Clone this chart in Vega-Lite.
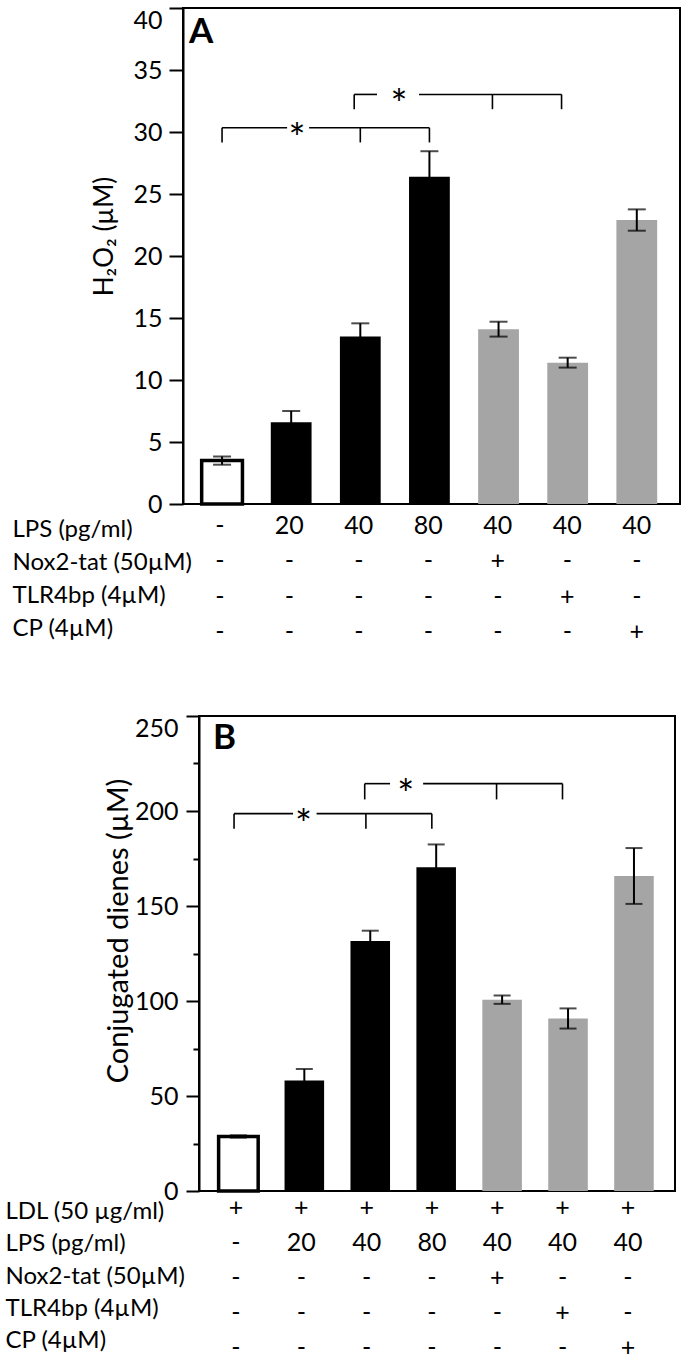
{
  "$schema": "https://vega.github.io/schema/vega-lite/v6.json",
  "padding": {"left": 5, "top": 6, "right": 4, "bottom": 0},
  "autosize": {"type": "pad"},
  "spacing": 67,
  "datasets": {
    "barsA": [
      {"col": "ctrl", "grp": "ctrl", "v": 3.5, "e": 0.33},
      {"col": "LPS20", "grp": "lps", "v": 6.6, "e": 0.9},
      {"col": "LPS40", "grp": "lps", "v": 13.5, "e": 1.07},
      {"col": "LPS80", "grp": "lps", "v": 26.4, "e": 2.05},
      {"col": "Nox2", "grp": "inh", "v": 14.1, "e": 0.6},
      {"col": "TLR4bp", "grp": "inh", "v": 11.4, "e": 0.4},
      {"col": "CP", "grp": "inh", "v": 22.9, "e": 0.86}
    ],
    "barsB": [
      {"col": "ctrl", "grp": "ctrl", "v": 28.7, "e": 0.6},
      {"col": "LPS20", "grp": "lps", "v": 58.2, "e": 6},
      {"col": "LPS40", "grp": "lps", "v": 131.6, "e": 5.4},
      {"col": "LPS80", "grp": "lps", "v": 170.4, "e": 12},
      {"col": "Nox2", "grp": "inh", "v": 100.7, "e": 2.2},
      {"col": "TLR4bp", "grp": "inh", "v": 90.8, "e": 5.3},
      {"col": "CP", "grp": "inh", "v": 165.8, "e": 14.7}
    ],
    "bracketsA": [
      {"b": "A1", "left": "ctrl", "mid": "LPS40", "right": "LPS80", "gap": "LPS20", "gap2": "LPS20", "y": 30.34, "yEnd": 29.16},
      {"b": "A2", "left": "LPS40", "mid": "Nox2", "right": "TLR4bp", "gap": "LPS40", "gap2": "LPS80", "y": 33.03, "yEnd": 31.84}
    ],
    "bracketsB": [
      {"b": "B1", "left": "ctrl", "mid": "LPS40", "right": "LPS80", "gap": "LPS20", "gap2": "LPS20", "y": 198.6, "yEnd": 190.7},
      {"b": "B2", "left": "LPS40", "mid": "Nox2", "right": "TLR4bp", "gap": "LPS40", "gap2": "LPS80", "y": 214.4, "yEnd": 206.1}
    ],
    "tableA": [
      {"row": "LPS (pg/ml)", "col": "ctrl", "val": "-"},
      {"row": "LPS (pg/ml)", "col": "LPS20", "val": "20"},
      {"row": "LPS (pg/ml)", "col": "LPS40", "val": "40"},
      {"row": "LPS (pg/ml)", "col": "LPS80", "val": "80"},
      {"row": "LPS (pg/ml)", "col": "Nox2", "val": "40"},
      {"row": "LPS (pg/ml)", "col": "TLR4bp", "val": "40"},
      {"row": "LPS (pg/ml)", "col": "CP", "val": "40"},
      {"row": "Nox2-tat (50µM)", "col": "ctrl", "val": "-"},
      {"row": "Nox2-tat (50µM)", "col": "LPS20", "val": "-"},
      {"row": "Nox2-tat (50µM)", "col": "LPS40", "val": "-"},
      {"row": "Nox2-tat (50µM)", "col": "LPS80", "val": "-"},
      {"row": "Nox2-tat (50µM)", "col": "Nox2", "val": "+"},
      {"row": "Nox2-tat (50µM)", "col": "TLR4bp", "val": "-"},
      {"row": "Nox2-tat (50µM)", "col": "CP", "val": "-"},
      {"row": "TLR4bp (4µM)", "col": "ctrl", "val": "-"},
      {"row": "TLR4bp (4µM)", "col": "LPS20", "val": "-"},
      {"row": "TLR4bp (4µM)", "col": "LPS40", "val": "-"},
      {"row": "TLR4bp (4µM)", "col": "LPS80", "val": "-"},
      {"row": "TLR4bp (4µM)", "col": "Nox2", "val": "-"},
      {"row": "TLR4bp (4µM)", "col": "TLR4bp", "val": "+"},
      {"row": "TLR4bp (4µM)", "col": "CP", "val": "-"},
      {"row": "CP (4µM)", "col": "ctrl", "val": "-"},
      {"row": "CP (4µM)", "col": "LPS20", "val": "-"},
      {"row": "CP (4µM)", "col": "LPS40", "val": "-"},
      {"row": "CP (4µM)", "col": "LPS80", "val": "-"},
      {"row": "CP (4µM)", "col": "Nox2", "val": "-"},
      {"row": "CP (4µM)", "col": "TLR4bp", "val": "-"},
      {"row": "CP (4µM)", "col": "CP", "val": "+"}
    ],
    "tableB": [
      {"row": "LDL (50 µg/ml)", "col": "ctrl", "val": "+"},
      {"row": "LDL (50 µg/ml)", "col": "LPS20", "val": "+"},
      {"row": "LDL (50 µg/ml)", "col": "LPS40", "val": "+"},
      {"row": "LDL (50 µg/ml)", "col": "LPS80", "val": "+"},
      {"row": "LDL (50 µg/ml)", "col": "Nox2", "val": "+"},
      {"row": "LDL (50 µg/ml)", "col": "TLR4bp", "val": "+"},
      {"row": "LDL (50 µg/ml)", "col": "CP", "val": "+"},
      {"row": "LPS (pg/ml)", "col": "ctrl", "val": "-"},
      {"row": "LPS (pg/ml)", "col": "LPS20", "val": "20"},
      {"row": "LPS (pg/ml)", "col": "LPS40", "val": "40"},
      {"row": "LPS (pg/ml)", "col": "LPS80", "val": "80"},
      {"row": "LPS (pg/ml)", "col": "Nox2", "val": "40"},
      {"row": "LPS (pg/ml)", "col": "TLR4bp", "val": "40"},
      {"row": "LPS (pg/ml)", "col": "CP", "val": "40"},
      {"row": "Nox2-tat (50µM)", "col": "ctrl", "val": "-"},
      {"row": "Nox2-tat (50µM)", "col": "LPS20", "val": "-"},
      {"row": "Nox2-tat (50µM)", "col": "LPS40", "val": "-"},
      {"row": "Nox2-tat (50µM)", "col": "LPS80", "val": "-"},
      {"row": "Nox2-tat (50µM)", "col": "Nox2", "val": "+"},
      {"row": "Nox2-tat (50µM)", "col": "TLR4bp", "val": "-"},
      {"row": "Nox2-tat (50µM)", "col": "CP", "val": "-"},
      {"row": "TLR4bp (4µM)", "col": "ctrl", "val": "-"},
      {"row": "TLR4bp (4µM)", "col": "LPS20", "val": "-"},
      {"row": "TLR4bp (4µM)", "col": "LPS40", "val": "-"},
      {"row": "TLR4bp (4µM)", "col": "LPS80", "val": "-"},
      {"row": "TLR4bp (4µM)", "col": "Nox2", "val": "-"},
      {"row": "TLR4bp (4µM)", "col": "TLR4bp", "val": "+"},
      {"row": "TLR4bp (4µM)", "col": "CP", "val": "-"},
      {"row": "CP (4µM)", "col": "ctrl", "val": "-"},
      {"row": "CP (4µM)", "col": "LPS20", "val": "-"},
      {"row": "CP (4µM)", "col": "LPS40", "val": "-"},
      {"row": "CP (4µM)", "col": "LPS80", "val": "-"},
      {"row": "CP (4µM)", "col": "Nox2", "val": "-"},
      {"row": "CP (4µM)", "col": "TLR4bp", "val": "-"},
      {"row": "CP (4µM)", "col": "CP", "val": "+"}
    ]
  },
  "vconcat": [
    {
      "bounds": "flush",
      "spacing": 8,
      "vconcat": [
        {
          "width": 497,
          "height": 496,
          "resolve": {"axis": {"x": "independent", "y": "independent"}},
          "layer": [
            {
              "data": {"name": "barsA"},
              "mark": {"type": "bar", "strokeWidth": 3.5},
              "encoding": {
                "x": {"field": "col", "type": "nominal", "axis": null,
                      "scale": {"type": "band", "domain": ["ctrl", "LPS20", "LPS40", "LPS80", "Nox2", "TLR4bp", "CP"], "paddingInner": 0.41, "paddingOuter": 0.3, "align": 0.45}},
                "y": {"field": "v", "type": "quantitative", "scale": {"domain": [0, 40], "nice": false},
                      "axis": {"orient": "left", "values": [0, 5, 10, 15, 20, 25, 30, 35, 40], "tickSize": 14, "labelPadding": 7,
                               "labelBaseline": {"condition": {"test": "datum.value === 40", "value": "top"}, "value": "middle"},
                               "title": "H₂O₂ (µM)", "titleX": -66, "titleY": 228, "titleAngle": 270, "titleBaseline": "bottom", "titleAlign": "center", "titleFontSize": 26}},
                "fill": {"field": "grp", "type": "nominal", "legend": null,
                         "scale": {"domain": ["ctrl", "lps", "inh"], "range": ["white", "black", "#a5a5a5"]}},
                "stroke": {"condition": {"test": "datum.grp === 'ctrl'", "value": "black"}, "value": null}
              }
            },
            {
              "data": {"name": "barsA"},
              "mark": {"type": "errorbar", "ticks": true, "size": 18, "thickness": 2, "color": "black"},
              "encoding": {
                "x": {"field": "col", "type": "nominal", "axis": null},
                "y": {"field": "v", "type": "quantitative", "axis": null},
                "yError": {"field": "e"}
              }
            },
            {
              "data": {"name": "bracketsA"},
              "transform": [{"filter": "datum.b === 'A1'"}],
              "mark": {"type": "rule", "color": "black", "strokeWidth": 1.6},
              "encoding": {
                "x": {"field": "left", "type": "nominal", "bandPosition": 0.5, "axis": null},
                "x2": {"field": "gap", "bandPosition": 0.4},
                "y": {"field": "y", "type": "quantitative", "axis": null}
              }
            },
            {
              "data": {"name": "bracketsA"},
              "transform": [{"filter": "datum.b === 'A1'"}],
              "mark": {"type": "rule", "color": "black", "strokeWidth": 1.6},
              "encoding": {
                "x": {"field": "gap2", "type": "nominal", "bandPosition": 0.94, "axis": null},
                "x2": {"field": "right", "bandPosition": 0.5},
                "y": {"field": "y", "type": "quantitative", "axis": null}
              }
            },
            {
              "data": {"name": "bracketsA"},
              "transform": [{"filter": "datum.b === 'A1'"}, {"fold": ["left", "mid", "right"], "as": ["k", "cat"]}],
              "mark": {"type": "rule", "color": "black", "strokeWidth": 1.6},
              "encoding": {
                "x": {"field": "cat", "type": "nominal", "bandPosition": 0.5, "axis": null},
                "y": {"field": "y", "type": "quantitative", "axis": null},
                "y2": {"field": "yEnd"}
              }
            },
            {
              "data": {"name": "bracketsA"},
              "transform": [{"filter": "datum.b === 'A1'"}],
              "mark": {"type": "text", "text": "*", "fontSize": 40, "dy": 13, "color": "black"},
              "encoding": {
                "x": {"field": "gap", "type": "nominal", "bandPosition": 0.64, "axis": null},
                "y": {"field": "y", "type": "quantitative", "axis": null}
              }
            },
            {
              "data": {"name": "bracketsA"},
              "transform": [{"filter": "datum.b === 'A2'"}],
              "mark": {"type": "rule", "color": "black", "strokeWidth": 1.6},
              "encoding": {
                "x": {"field": "left", "type": "nominal", "bandPosition": 0.35, "axis": null},
                "x2": {"field": "gap", "bandPosition": 0.91},
                "y": {"field": "y", "type": "quantitative", "axis": null}
              }
            },
            {
              "data": {"name": "bracketsA"},
              "transform": [{"filter": "datum.b === 'A2'"}],
              "mark": {"type": "rule", "color": "black", "strokeWidth": 1.6},
              "encoding": {
                "x": {"field": "gap2", "type": "nominal", "bandPosition": 0.245, "axis": null},
                "x2": {"field": "right", "bandPosition": 0.35},
                "y": {"field": "y", "type": "quantitative", "axis": null}
              }
            },
            {
              "data": {"name": "bracketsA"},
              "transform": [{"filter": "datum.b === 'A2'"}, {"fold": ["left", "mid", "right"], "as": ["k", "cat"]}],
              "mark": {"type": "rule", "color": "black", "strokeWidth": 1.6},
              "encoding": {
                "x": {"field": "cat", "type": "nominal", "bandPosition": 0.35, "axis": null},
                "y": {"field": "y", "type": "quantitative", "axis": null},
                "y2": {"field": "yEnd"}
              }
            },
            {
              "data": {"name": "bracketsA"},
              "transform": [{"filter": "datum.b === 'A2'"}],
              "mark": {"type": "text", "text": "*", "fontSize": 40, "dy": 13, "color": "black"},
              "encoding": {
                "x": {"field": "gap", "type": "nominal", "bandPosition": 1.45, "axis": null},
                "y": {"field": "y", "type": "quantitative", "axis": null}
              }
            },
            {
              "data": {"values": [{"t": "A"}]},
              "mark": {"type": "text", "align": "left", "baseline": "middle", "fontSize": 35, "fontWeight": "bold", "color": "black"},
              "encoding": {
                "text": {"field": "t"},
                "x": {"datum": "ctrl", "type": "nominal", "bandPosition": -0.31, "axis": null},
                "y": {"datum": 38.1, "type": "quantitative", "axis": null}
              }
            }
          ]
        },
        {
          "width": 497,
          "height": 134,
          "view": {"stroke": null},
          "data": {"name": "tableA"},
          "layer": [
            {
              "mark": {"type": "text", "fontSize": 25, "color": "black"},
              "encoding": {
                "x": {"field": "col", "type": "nominal", "axis": null,
                      "scale": {"type": "point", "domain": ["ctrl", "LPS20", "LPS40", "LPS80", "Nox2", "TLR4bp", "CP"], "padding": 0.575, "align": 0.46}},
                "y": {"field": "row", "type": "nominal", "axis": null,
                      "scale": {"type": "point", "domain": ["LPS (pg/ml)", "Nox2-tat (50µM)", "TLR4bp (4µM)", "CP (4µM)"], "padding": 0.414}},
                "text": {"field": "val"}
              }
            },
            {
              "mark": {"type": "text", "text": ""},
              "encoding": {
                "y": {"field": "row", "type": "nominal",
                      "scale": {"type": "point", "domain": ["LPS (pg/ml)", "Nox2-tat (50µM)", "TLR4bp (4µM)", "CP (4µM)"], "padding": 0.53},
                      "axis": {"orient": "left", "domain": false, "ticks": false, "tickSize": 0, "labelAlign": "left", "labelPadding": 171, "labelLimit": 0, "labelFontSize": 24, "title": null}}
              }
            }
          ],
          "resolve": {"scale": {"y": "independent"}, "axis": {"y": "independent"}}
        }
      ]
    },
    {
      "bounds": "flush",
      "spacing": 15,
      "hconcat": [
        {
          "width": 1,
          "height": 1,
          "view": {"stroke": null},
          "data": {"values": [{}]},
          "mark": {"type": "point", "opacity": 0}
        },
        {
          "bounds": "flush",
          "spacing": 3,
          "vconcat": [
            {
              "width": 476,
              "height": 475,
              "resolve": {"axis": {"x": "independent", "y": "independent"}},
              "layer": [
                {
                  "data": {"name": "barsB"},
                  "mark": {"type": "bar", "strokeWidth": 3.5},
                  "encoding": {
                    "x": {"field": "col", "type": "nominal", "axis": null,
                          "scale": {"type": "band", "domain": ["ctrl", "LPS20", "LPS40", "LPS80", "Nox2", "TLR4bp", "CP"], "paddingInner": 0.4, "paddingOuter": 0.31, "align": 0.48}},
                    "y": {"field": "v", "type": "quantitative", "scale": {"domain": [0, 250], "nice": false},
                          "axis": {"orient": "left", "values": [0, 25, 50, 75, 100, 125, 150, 175, 200, 225, 250],
                                   "tickSize": {"condition": {"test": "datum.value % 50 === 0", "value": 13}, "value": 6},
                                   "labelExpr": "datum.value % 50 === 0 ? datum.label : ''",
                                   "labelPadding": 8,
                                   "labelBaseline": {"condition": {"test": "datum.value === 250", "value": "top"}, "value": "middle"},
                                   "title": "Conjugated dienes (µM)", "titleX": -66, "titleY": 214.5, "titleAngle": 270, "titleBaseline": "bottom", "titleAlign": "center", "titleFontSize": 29}},
                    "fill": {"field": "grp", "type": "nominal", "legend": null,
                             "scale": {"domain": ["ctrl", "lps", "inh"], "range": ["white", "black", "#a5a5a5"]}},
                    "stroke": {"condition": {"test": "datum.grp === 'ctrl'", "value": "black"}, "value": null}
                  }
                },
                {
                  "data": {"name": "barsB"},
                  "mark": {"type": "errorbar", "ticks": true, "size": 17, "thickness": 2, "color": "black"},
                  "encoding": {
                    "x": {"field": "col", "type": "nominal", "axis": null},
                    "y": {"field": "v", "type": "quantitative", "axis": null},
                    "yError": {"field": "e"}
                  }
                },
                {
                  "data": {"name": "bracketsB"},
                  "transform": [{"filter": "datum.b === 'B1'"}],
                  "mark": {"type": "rule", "color": "black", "strokeWidth": 1.6},
                  "encoding": {
                    "x": {"field": "left", "type": "nominal", "bandPosition": 0.39, "axis": null},
                    "x2": {"field": "gap", "bandPosition": 0.215},
                    "y": {"field": "y", "type": "quantitative", "axis": null}
                  }
                },
                {
                  "data": {"name": "bracketsB"},
                  "transform": [{"filter": "datum.b === 'B1'"}],
                  "mark": {"type": "rule", "color": "black", "strokeWidth": 1.6},
                  "encoding": {
                    "x": {"field": "gap2", "type": "nominal", "bandPosition": 0.81, "axis": null},
                    "x2": {"field": "right", "bandPosition": 0.39},
                    "y": {"field": "y", "type": "quantitative", "axis": null}
                  }
                },
                {
                  "data": {"name": "bracketsB"},
                  "transform": [{"filter": "datum.b === 'B1'"}, {"fold": ["left", "mid", "right"], "as": ["k", "cat"]}],
                  "mark": {"type": "rule", "color": "black", "strokeWidth": 1.6},
                  "encoding": {
                    "x": {"field": "cat", "type": "nominal", "bandPosition": 0.39, "axis": null},
                    "y": {"field": "y", "type": "quantitative", "axis": null},
                    "y2": {"field": "yEnd"}
                  }
                },
                {
                  "data": {"name": "bracketsB"},
                  "transform": [{"filter": "datum.b === 'B1'"}],
                  "mark": {"type": "text", "text": "*", "fontSize": 40, "dy": 13, "color": "black"},
                  "encoding": {
                    "x": {"field": "gap", "type": "nominal", "bandPosition": 0.48, "axis": null},
                    "y": {"field": "y", "type": "quantitative", "axis": null}
                  }
                },
                {
                  "data": {"name": "bracketsB"},
                  "transform": [{"filter": "datum.b === 'B2'"}],
                  "mark": {"type": "rule", "color": "black", "strokeWidth": 1.6},
                  "encoding": {
                    "x": {"field": "left", "type": "nominal", "bandPosition": 0.36, "axis": null},
                    "x2": {"field": "gap", "bandPosition": 1.0},
                    "y": {"field": "y", "type": "quantitative", "axis": null}
                  }
                },
                {
                  "data": {"name": "bracketsB"},
                  "transform": [{"filter": "datum.b === 'B2'"}],
                  "mark": {"type": "rule", "color": "black", "strokeWidth": 1.6},
                  "encoding": {
                    "x": {"field": "gap2", "type": "nominal", "bandPosition": 0.17, "axis": null},
                    "x2": {"field": "right", "bandPosition": 0.36},
                    "y": {"field": "y", "type": "quantitative", "axis": null}
                  }
                },
                {
                  "data": {"name": "bracketsB"},
                  "transform": [{"filter": "datum.b === 'B2'"}, {"fold": ["left", "mid", "right"], "as": ["k", "cat"]}],
                  "mark": {"type": "rule", "color": "black", "strokeWidth": 1.6},
                  "encoding": {
                    "x": {"field": "cat", "type": "nominal", "bandPosition": 0.36, "axis": null},
                    "y": {"field": "y", "type": "quantitative", "axis": null},
                    "y2": {"field": "yEnd"}
                  }
                },
                {
                  "data": {"name": "bracketsB"},
                  "transform": [{"filter": "datum.b === 'B2'"}],
                  "mark": {"type": "text", "text": "*", "fontSize": 40, "dy": 13, "color": "black"},
                  "encoding": {
                    "x": {"field": "gap", "type": "nominal", "bandPosition": 1.395, "axis": null},
                    "y": {"field": "y", "type": "quantitative", "axis": null}
                  }
                },
                {
                  "data": {"values": [{"t": "B"}]},
                  "mark": {"type": "text", "align": "left", "baseline": "middle", "fontSize": 35, "fontWeight": "bold", "color": "black"},
                  "encoding": {
                    "text": {"field": "t"},
                    "x": {"datum": "ctrl", "type": "nominal", "bandPosition": -0.14, "axis": null},
                    "y": {"datum": 238.2, "type": "quantitative", "axis": null}
                  }
                }
              ]
            },
            {
              "width": 476,
              "height": 164,
              "view": {"stroke": null},
              "data": {"name": "tableB"},
              "layer": [
                {
                  "mark": {"type": "text", "fontSize": 25, "dy": 2, "color": "black"},
                  "encoding": {
                    "x": {"field": "col", "type": "nominal", "axis": null,
                          "scale": {"type": "point", "domain": ["ctrl", "LPS20", "LPS40", "LPS80", "Nox2", "TLR4bp", "CP"], "padding": 0.643, "align": 0.44}},
                    "y": {"field": "row", "type": "nominal", "axis": null,
                          "scale": {"type": "point", "domain": ["LDL (50 µg/ml)", "LPS (pg/ml)", "Nox2-tat (50µM)", "TLR4bp (4µM)", "CP (4µM)"], "padding": 0.33}},
                    "text": {"field": "val"}
                  }
                },
                {
                  "mark": {"type": "text", "text": ""},
                  "encoding": {
                    "y": {"field": "row", "type": "nominal",
                          "scale": {"type": "point", "domain": ["LDL (50 µg/ml)", "LPS (pg/ml)", "Nox2-tat (50µM)", "TLR4bp (4µM)", "CP (4µM)"], "padding": 0.543},
                          "axis": {"orient": "left", "domain": false, "ticks": false, "tickSize": 0, "labelAlign": "left", "labelPadding": 194, "labelLimit": 0, "labelFontSize": 24, "title": null}}
                  }
                }
              ],
              "resolve": {"scale": {"y": "independent"}, "axis": {"y": "independent"}}
            }
          ]
        }
      ]
    }
  ],
  "config": {
    "font": "Lato",
    "view": {"stroke": "black", "strokeWidth": 2},
    "axis": {"grid": false, "domainColor": "black", "domainWidth": 2, "tickColor": "black", "tickWidth": 2,
             "labelColor": "black", "labelFontSize": 25, "titleColor": "black", "titleFontWeight": "normal"},
    "text": {"color": "black"}
  }
}
